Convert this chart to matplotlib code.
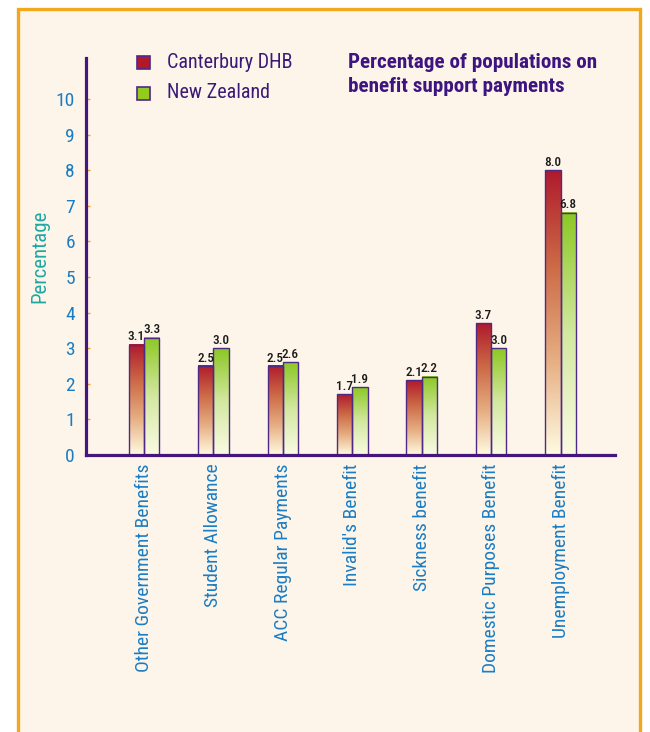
import numpy as np
import matplotlib
matplotlib.use("Agg")
import matplotlib.pyplot as plt
from matplotlib import font_manager
from matplotlib.colors import LinearSegmentedColormap
from matplotlib.patches import Rectangle

# data
categories = ["Other Government Benefits", "Student Allowance", "ACC Regular Payments",
              "Invalid's Benefit", "Sickness benefit", "Domestic Purposes Benefit",
              "Unemployment Benefit"]
canterbury = [3.1, 2.5, 2.5, 1.7, 2.1, 3.7, 8.0]
new_zealand = [3.3, 3.0, 2.6, 1.9, 2.2, 3.0, 6.8]
series_names = ["Canterbury DHB", "New Zealand"]
y_ticks = list(range(0, 11))

W, H = 650, 732

# condensed face like the original, if there is one
installed = {f.name for f in font_manager.fontManager.ttflist}
cond = [p for p in ["Roboto Condensed", "PT Sans Narrow", "Liberation Sans Narrow"] if p in installed]
plt.rcParams["font.family"] = cond[:1] + ["Liberation Sans", "DejaVu Sans"]

cream = "#FEF5EA"
purple = "#43177B"
blue = "#1A7DC3"
orange = "#F3A71C"

red_cmap = LinearSegmentedColormap.from_list("red", ["#FFFBE2", "#E6AE82", "#CC6A46", "#AF1A2C"])
green_cmap = LinearSegmentedColormap.from_list("green", ["#FBFBE4", "#D3E8A0", "#8CC824"])

fig = plt.figure(figsize=(W / 100, H / 100), dpi=100)
fig.patch.set_facecolor("white")

def fx(x):
    return x / W

def fy(y):
    return 1 - y / H

# orange frame, cream inside
frame = Rectangle((fx(18), fy(760)), fx(640) - fx(18), fy(9) - fy(760),
                  transform=fig.transFigure, facecolor=cream, edgecolor=orange,
                  linewidth=2.4, zorder=-5)
fig.patches.append(frame)

ax = fig.add_axes([fx(86), fy(455), fx(615) - fx(86), fy(58) - fy(455)])
ax.set_facecolor("none")
ax.set_zorder(2)

x = np.arange(len(categories))
bw = 0.22
grad = np.linspace(0, 1, 256).reshape(-1, 1)

for vals, cmap, off in [(canterbury, red_cmap, -bw / 2), (new_zealand, green_cmap, bw / 2)]:
    for xi, v in zip(x, vals):
        x0 = xi + off - bw / 2
        ax.imshow(grad, cmap=cmap, origin="lower", aspect="auto",
                  extent=[x0, x0 + bw, 0, v], zorder=2, interpolation="bilinear")
        ax.add_patch(Rectangle((x0, 0), bw, v, fill=False, edgecolor="#4E2A86",
                               linewidth=1.0, zorder=3))
        ax.text(xi + off, v + 0.04, f"{v:.1f}", ha="center", va="bottom",
                fontsize=9.5, fontweight="medium", color="#1a1a1a", zorder=4)

ax.set_xlim(-0.836, 6.785)
ax.set_ylim(0, 11.15)

for s in ["top", "right"]:
    ax.spines[s].set_visible(False)
for s in ["left", "bottom"]:
    ax.spines[s].set_color(purple)
    ax.spines[s].set_linewidth(2.3)
    ax.spines[s].set_zorder(5)

ax.set_yticks(y_ticks)
ax.set_yticklabels([str(t) for t in y_ticks], fontsize=14, color=blue)
ax.tick_params(axis="y", direction="in", length=3, width=1, color=orange, pad=8)
ax.set_xticks(x)
ax.set_xticklabels(categories, rotation=90, fontsize=14, color=blue, va="top")
ax.tick_params(axis="x", length=0, pad=6)

fig.text(fx(40), fy(256), "Percentage", rotation=90, ha="center", va="center",
         fontsize=15, color="#1FA8A3")

# legend
for i, (name, col) in enumerate(zip(series_names, ["#B2182B", "#93CB1E"])):
    yc = 62 + i * 31
    fig.patches.append(Rectangle((fx(137), fy(yc + 6.5)), fx(13), 13 / H,
                                 transform=fig.transFigure, facecolor=col,
                                 edgecolor="#4E2A86", linewidth=1.2))
    fig.text(fx(167), fy(yc), name, ha="left", va="center", fontsize=14.5, color="#3A1A78")

fig.text(fx(348), fy(62), "Percentage of populations on", ha="left", va="center",
         fontsize=15.2, fontweight="bold", color="#3E1580")
fig.text(fx(348), fy(87), "benefit support payments", ha="left", va="center",
         fontsize=15.2, fontweight="bold", color="#3E1580")

fig.savefig("out.png", dpi=100, facecolor=fig.get_facecolor())
